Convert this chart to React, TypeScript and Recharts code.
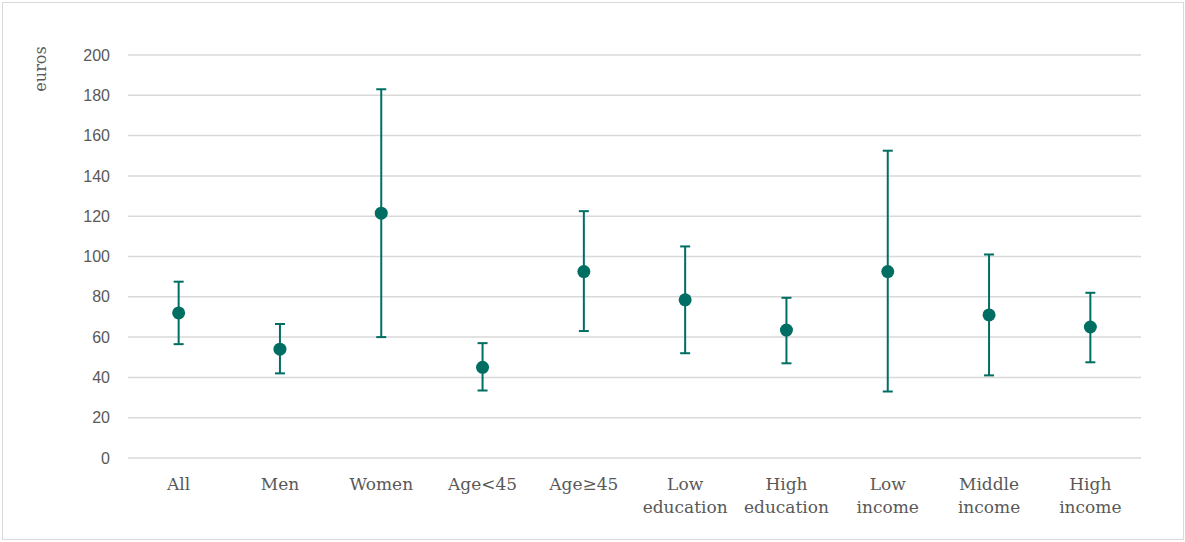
import React from 'react';
import { ComposedChart, Line, ErrorBar, XAxis, YAxis, CartesianGrid } from 'recharts';

const categories = ['All', 'Men', 'Women', 'Age<45', 'Age≥45', 'Low\neducation', 'High\neducation', 'Low\nincome', 'Middle\nincome', 'High\nincome'];
const means = [72, 54, 121.5, 45, 92.5, 78.5, 63.5, 92.5, 71, 65];
const lows = [56.5, 42, 60, 33.5, 63, 52, 47, 33, 41, 47.5];
const highs = [87.5, 66.5, 183, 57, 122.5, 105, 79.5, 152.5, 101, 82];
const yTicks = [0, 20, 40, 60, 80, 100, 120, 140, 160, 180, 200];

const data = categories.map((name, i) => ({
  name,
  mean: means[i],
  err: [means[i] - lows[i], highs[i] - means[i]],
}));

const TEAL = '#006e62';

const CategoryTick = (props: any) => {
  const { x, y, payload } = props;
  const lines = String(payload.value).split('\n');
  return (
    <text x={x} y={y} textAnchor="middle" fill="#595959" fontFamily="'DejaVu Serif', serif" fontSize={17}>
      {lines.map((l, i) => (
        <tspan key={i} x={x} dy={i === 0 ? 24 : 23}>{l}</tspan>
      ))}
    </text>
  );
};

export default function App() {
  return (
    <div style={{ position: 'absolute', left: 0, top: 0, width: 1185, height: 542, background: '#fff' }}>
      <div style={{ position: 'absolute', left: 2, top: 2, width: 1180, height: 536, border: '1px solid #d9d9d9' }} />
      <ComposedChart
        width={1185}
        height={542}
        data={data}
        margin={{ top: 55, right: 44, bottom: 14, left: 68 }}
        style={{ position: 'absolute', left: 0, top: 0 }}
      >
        <CartesianGrid vertical={false} stroke="#d9d9d9" strokeWidth={1.5} />
        <XAxis
          dataKey="name"
          scale="band"
          axisLine={false}
          tickLine={false}
          interval={0}
          height={70}
          tick={<CategoryTick />}
        />
        <YAxis
          domain={[0, 200]}
          ticks={yTicks}
          width={60}
          axisLine={false}
          tickLine={false}
          tickSize={0}
          tickMargin={18}
          tick={{ fill: '#595959', fontSize: 16, fontFamily: "'Liberation Sans', sans-serif" }}
          label={{
            content: () => (
              <text
                x={46}
                y={69}
                transform="rotate(-90 46 69)"
                textAnchor="middle"
                fill="#595959"
                fontSize={16}
                fontFamily="'DejaVu Serif', serif"
              >
                euros
              </text>
            ),
          }}
        />
        <Line
          dataKey="mean"
          stroke="none"
          isAnimationActive={false}
          dot={{ r: 6.5, fill: TEAL, stroke: TEAL, strokeWidth: 0 }}
          activeDot={false}
        >
          <ErrorBar dataKey="err" width={5} stroke={TEAL} strokeWidth={2} direction="y" />
        </Line>
      </ComposedChart>
    </div>
  );
}
